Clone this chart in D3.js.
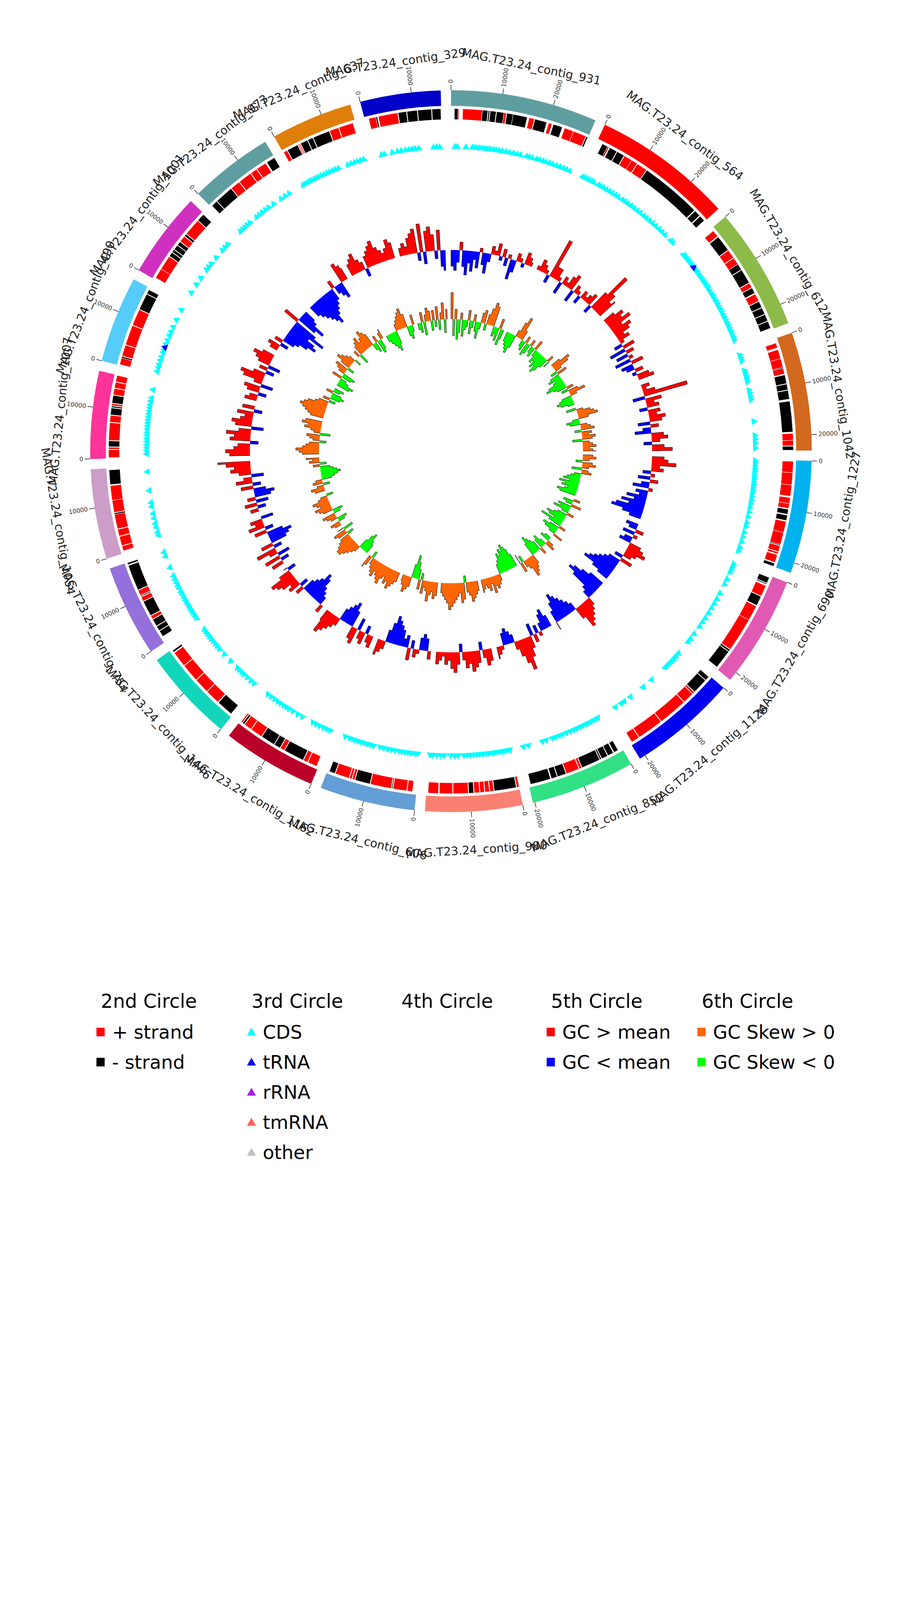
<!DOCTYPE html>
<html>
<head>
<meta charset="utf-8">
<script src="https://cdn.jsdelivr.net/npm/d3@7"></script>
<style>
  body { margin: 0; background: #fff; }
  svg { font-family: "DejaVu Sans", sans-serif; }
</style>
</head>
<body>
<svg id="chart" width="2310" height="4620"></svg>
<script>
// Circular MAG plot: contigs, strand features, CDS markers, GC content & GC skew.

const contigNames = [
  'MAG.T23.24_contig_931', 'MAG.T23.24_contig_564', 'MAG.T23.24_contig_612', 'MAG.T23.24_contig_1042',
  'MAG.T23.24_contig_1227', 'MAG.T23.24_contig_690', 'MAG.T23.24_contig_1126', 'MAG.T23.24_contig_852',
  'MAG.T23.24_contig_980', 'MAG.T23.24_contig_606', 'MAG.T23.24_contig_1162', 'MAG.T23.24_contig_1446',
  'MAG.T23.24_contig_754', 'MAG.T23.24_contig_1054', 'MAG.T23.24_contig_1007', 'MAG.T23.24_contig_490',
  'MAG.T23.24_contig_1001', 'MAG.T23.24_contig_973', 'MAG.T23.24_contig_637', 'MAG.T23.24_contig_329',
];
const contigLengths = [28610, 27390, 23920, 23080, 21990, 21810, 21170, 20380, 18960, 18620,
  18410, 18190, 17880, 17520, 17090, 16900, 16690, 16380, 15910, 15690];
const contigColors = ['#5f9ea0', '#ff0000', '#8cbb4a', '#d2691e', '#00b2ee', '#e05ab4', '#0000ee', '#32e085',
  '#fa8072', '#639ed6', '#ba0028', '#12d6bb', '#9370db', '#cc9dc6', '#ff3399', '#55ccfa',
  '#d030c0', '#5f9ea0', '#df7f0a', '#0000c8'];

// features per contig: [start kb, end kb, strand]
const strandFeatures = [
  [[0.7,1.45,-1],[1.45,1.65,1],[2.4,6.4,1],[6.4,7.5,-1],[7.6,7.9,-1],[8.0,9.2,-1],[9.3,10.8,-1],[10.8,11.3,1],[11.4,12.7,-1],[12.7,15.6,-1],[16.0,17.1,1],[17.2,19.7,-1],[20.1,20.8,1],[21.1,23.0,-1],[23.5,25.4,1],[25.4,28.1,1],[28.2,28.55,-1]],
  [[1.2,2.4,-1],[2.4,2.7,1],[2.9,4.5,-1],[4.6,6.2,-1],[6.3,8.0,1],[8.0,9.3,1],[9.4,11.6,1],[11.7,24.3,-1],[24.5,25.8,-1],[26.0,27.2,-1]],
  [[0.6,2.0,1],[2.2,5.5,-1],[5.6,7.4,1],[7.5,9.0,1],[9.0,10.3,-1],[10.4,13.4,-1],[13.5,14.5,1],[14.6,15.8,-1],[16.0,17.6,1],[17.7,19.0,-1],[19.1,20.5,-1],[20.6,22.0,-1],[22.1,23.6,-1]],
  [[0.9,1.9,1],[2.3,4.2,1],[4.2,6.0,1],[6.0,6.2,-1],[6.2,7.4,1],[7.6,9.4,-1],[9.5,10.7,-1],[10.8,12.6,-1],[13.0,19.3,-1],[19.6,21.0,1],[21.0,22.1,1],[22.2,23.0,-1]],
  [[0.2,2.5,1],[2.5,5.0,1],[5.0,7.3,1],[7.6,8.8,1],[8.8,9.8,1],[10.0,11.0,-1],[11.2,12.3,-1],[12.5,14.8,1],[14.8,17.3,1],[17.3,17.5,-1],[17.6,18.8,1],[18.9,19.3,1],[19.5,21.1,1],[21.3,21.95,-1]],
  [[0.4,1.6,-1],[1.7,1.9,-1],[2.2,4.5,1],[4.6,6.6,-1],[6.8,10.0,1],[10.0,17.0,1],[17.1,17.5,-1],[17.6,21.5,-1]],
  [[0.3,1.2,-1],[1.3,4.5,-1],[4.6,5.0,1],[5.1,7.4,1],[7.5,13.5,1],[13.6,19.0,1],[19.1,20.8,1]],
  [[0.9,1.8,-1],[2.0,3.2,-1],[3.3,4.6,-1],[4.7,5.0,-1],[5.1,9.0,-1],[9.1,9.6,1],[9.7,12.4,1],[12.5,14.3,-1],[14.4,15.6,-1],[15.8,20.0,-1]],
  [[0.0,0.5,1],[0.6,5.1,-1],[5.2,6.0,1],[6.1,7.0,1],[7.1,8.0,1],[8.1,9.2,1],[9.3,10.3,-1],[10.4,13.5,1],[13.6,16.3,1],[16.5,18.6,1]],
  [[0.8,1.9,1],[2.0,4.8,1],[4.9,5.1,-1],[5.2,9.5,1],[9.6,12.7,-1],[12.8,13.3,1],[13.4,13.9,1],[14.0,16.9,1],[17.0,18.2,-1]],
  [[0.4,2.3,1],[2.4,3.3,1],[3.4,7.6,-1],[7.7,8.6,1],[8.7,10.0,-1],[10.1,13.0,-1],[13.1,15.6,1],[15.7,17.3,1],[17.4,17.8,-1],[17.9,18.2,1]],
  [[0.4,3.8,-1],[4.0,7.0,1],[7.1,10.2,1],[10.3,14.0,1],[14.1,17.3,1],[17.5,17.9,-1]],
  [[1.2,2.5,-1],[2.6,3.6,-1],[3.7,5.2,-1],[5.3,6.0,1],[6.1,9.3,-1],[9.4,10.3,1],[10.4,10.6,-1],[10.7,11.8,1],[11.9,17.2,-1],[17.4,17.8,-1]],
  [[0.5,1.5,1],[1.6,3.5,1],[3.6,5.0,1],[5.1,8.1,1],[8.1,8.4,-1],[8.5,11.0,1],[11.0,14.0,1],[14.2,17.2,-1]],
  [[0.2,1.8,1],[1.9,2.3,1],[2.4,3.6,-1],[3.7,7.3,1],[7.4,8.8,1],[8.9,10.3,-1],[10.4,10.7,-1],[10.8,11.2,1],[11.3,12.9,-1],[13.0,14.3,1],[14.4,15.6,1],[15.7,17.0,1]],
  [[0.2,1.6,1],[1.6,1.9,-1],[2.0,4.3,1],[4.4,8.5,1],[8.6,12.0,1],[12.1,15.5,-1],[15.6,16.5,-1]],
  [[0.4,2.5,1],[2.5,5.5,1],[5.6,6.5,-1],[6.6,7.2,-1],[7.3,8.3,-1],[8.4,9.2,-1],[9.3,10.6,1],[10.7,11.2,-1],[11.3,14.8,1],[14.9,16.5,-1]],
  [[0.3,1.6,-1],[1.7,5.5,-1],[5.6,7.6,1],[7.7,10.5,1],[10.6,12.0,1],[12.1,14.2,1],[14.5,16.3,-1]],
  [[0.1,0.9,1],[1.0,3.3,-1],[3.4,3.6,1],[3.7,3.9,1],[4.0,5.5,-1],[5.6,6.7,-1],[6.8,10.3,-1],[10.4,12.3,1],[12.4,15.4,1]],
  [[0.8,2.3,1],[2.3,2.6,-1],[2.8,6.8,1],[6.9,8.6,-1],[8.7,10.8,-1],[10.9,13.7,-1],[13.8,15.6,-1]],
];

// CDS marker positions (kb) per contig
const cdsPositions = [
  [0.9,1.4,3.4,4.9,5.4,5.9,6.5,7.0,7.6,8.1,8.7,9.2,9.8,10.4,11.0,11.7,12.6,13.4,14.3,15.2,16.0,17.4,18.0,18.7,19.8,20.5,21.3,22.0,22.8,23.6,24.5,25.3,26.2,27.0,27.8],
  [0.5,1.0,1.5,2.1,2.7,3.3,4.5,5.1,5.8,6.6,7.4,8.2,9.0,9.8,10.9,11.6,12.4,13.3,14.2,15.1,16.0,17.0,17.8,18.7,19.6,20.6,21.6,22.6,23.6,25.4,26.1],
  [0.4,0.9,1.5,2.0,2.6,3.1,3.6,4.6,5.2,5.7,6.3,6.9,7.5,8.1,8.7,9.3,9.9,10.6,11.3,12.0,12.7,13.4,14.1,14.8,15.5,16.2,16.9,17.6,18.3,19.0,19.7,20.4,21.1,21.8,22.5,23.2],
  [0.9,1.7,2.3,4.6,5.1,5.6,6.1,6.6,7.2,9.2,9.9,10.6,11.4,16.4,19.6,20.5,21.4,22.5],
  [0.3,0.8,1.4,2.0,2.6,3.2,3.8,4.4,5.0,5.6,6.3,7.0,7.7,8.5,9.3,10.1,11.0,12.1,13.2,14.6,15.5,16.9,17.9,19.1,20.4,21.3],
  [0.5,1.2,1.9,2.6,4.3,5.6,7.9,9.4,10.6,11.8,13.1,14.5,15.6,16.8,18.9,20.3,21.2],
  [0.8,1.6,2.3,2.8,3.3,3.9,4.5,5.2,9.4,12.0,15.6,17.4,18.2,19.8],
  [1.3,2.0,2.7,3.3,3.9,4.6,5.3,6.0,6.8,7.6,8.4,9.3,10.2,11.1,12.0,12.7,14.2,15.1,18.4,19.6],
  [0.4,1.0,1.6,2.2,2.8,3.4,4.0,4.6,5.3,6.0,6.7,7.4,8.1,8.8,9.5,10.2,11.0,12.3,13.1,14.0,15.5,16.3,17.2,18.1,18.7],
  [0.6,1.3,2.0,2.8,3.5,4.2,4.9,5.8,6.6,7.5,8.4,9.3,10.8,11.6,12.3,13.0,13.7,14.4,15.1,15.8,16.5,17.6],
  [0.7,1.5,2.4,3.3,4.2,5.1,7.8,9.0,10.3,11.3,12.0,12.8,13.6,14.4,15.3,16.3,17.2],
  [0.8,1.8,2.9,3.9,4.6,5.3,6.0,8.2,10.3,11.9,12.7,13.4,14.1,14.8,15.5,16.2,16.9,17.6],
  [0.5,1.2,1.9,2.5,3.1,3.7,4.3,4.9,5.6,6.3,7.0,7.7,8.5,9.2,10.0,10.8,11.6,13.6,16.4,17.4],
  [1.6,2.3,3.5,4.4,5.6,6.7,8.3,9.2,12.0,16.3],
  [0.9,1.6,2.3,3.0,3.7,4.4,5.1,5.8,6.5,7.2,7.9,8.6,9.3,10.0,10.7,11.4,12.1,12.9,13.7,15.6],
  [0.8,1.7,2.5,3.4,4.3,5.3,5.9,7.4,8.3,9.5,10.4,11.6,13.4,15.9],
  [1.6,3.8,5.6,7.9,8.7,9.6,11.4,13.6,14.5,15.4],
  [0.9,1.6,2.3,3.0,3.8,5.8,6.6,7.5,8.4,9.3,10.7,12.8,13.9,15.0],
  [0.3,0.9,1.5,2.1,2.7,3.3,3.9,4.5,5.1,5.8,6.5,7.2,7.9,8.6,9.3,11.6,12.4,13.2,14.0,14.7,15.4],
  [1.7,2.4,4.2,5.4,6.3,7.3,8.1,8.8,9.5,10.3,13.7,14.4,15.1],
];
// tRNA marker positions (kb): [contig index, position]
const trnaPositions = [[2, 4.1], [15, 6.6]];

// GC content deviation from mean, 1 kb windows
const gcContent = [
  [-4,-5,-3,2,-4,-6,-3,-5,-2,-4,1,-3,-5,-2,2,1,3,-1,2,-2,1,-5,-3,2,1,-1,3,2,1],
  [1,3,2,1,-2,10,3,3,1,-3,2,1,3,4,-3,2,1,-2,2,1,2,3,-2,5,11,6,4,5],
  [3,5,4,6,3,5,4,2,3,1,-2,3,-4,2,-3,1,-4,3,-3,-2,2,-1,3,4],
  [2,1,3,11,-3,4,2,3,-2,3,2,4,3,-3,2,-2,-4,3,4,2,-2,3,5,2],
  [3,4,6,2,3,-2,1,-3,2,-2,-4,1,-3,-2,-5,-3,-6,-4,-7,-8,-5,-3],
  [-3,-2,2,-3,1,-2,-3,3,4,5,3,2,-2,3,-3,-4,-5,-6,-7,-8,-5,-3],
  [-4,-6,-8,-9,-7,-3,-2,2,3,4,5,6,3,-2,-3,-4,-5,-6,-7,-5,-3,2],
  [-3,-5,-4,-2,1,-2,2,-3,3,5,8,6,4,2,-2,-3,-4,-3,1,2,3],
  [3,4,2,-2,3,4,5,3,4,2,-2,3,5,4,2,3,1,2,3],
  [2,-3,-4,-3,1,2,-2,3,-3,-2,-4,-5,-6,-7,-5,-3,2,3,4],
  [3,2,-2,3,2,-3,4,3,-4,-6,-5,-4,-3,2,3,4,5,6,3],
  [2,-2,-3,-4,-6,-7,-5,-4,-3,2,-2,3,2,4,5,6,3,-2,1],
  [3,-2,4,-3,2,5,-2,3,-4,-5,-6,-4,3,-2,4,2,3,-3],
  [2,-2,3,-3,2,-4,-5,-3,3,-2,4,2,-3,3,5,4,6,8],
  [5,6,4,3,-2,5,4,6,3,-3,4,5,3,2,4,-2,3,2],
  [3,2,-2,3,4,-3,2,5,6,3,-2,2,-3,3,4,5,3],
  [2,3,-2,2,-3,-4,-6,-8,-7,-5,-9,-6,4,-5,-7,-4,-3],
  [-3,-4,-5,-6,-7,-8,-6,-5,-4,-3,2,-2,-3,-4,5,4,3],
  [3,4,5,3,2,-2,3,4,5,6,4,3,2,3,5,4],
  [2,3,2,4,5,6,-2,7,-3,5,6,4,-2,5,-4,-5],
];

// GC skew, 1 kb windows
const gcSkew = [
  [8,-5,3,-6,-4,2,-5,-3,-2,3,-4,-2,2,-3,-5,-2,3,4,-2,3,5,7,6,-3,-2,-4,3,-5,-3],
  [-3,-4,-5,-6,-4,2,5,7,3,-2,-3,2,-4,-3,2,-2,-3,3,-2,-4,-3,-5,-4,-6,-5,-3,2,-2],
  [3,6,5,2,-2,3,-3,-4,-2,-3,-5,-6,-4,-3,2,-2,3,5,2,-3,-4,-5,-4,-2],
  [-3,2,4,5,6,3,-2,-4,-3,2,3,4,-2,3,2,4,3,-3,2,3,4,2,3,4],
  [3,4,2,-2,3,4,2,-3,2,3,-2,-3,-4,-5,-3,-6,-4,-5,-3,-4,-6,-5],
  [2,-3,-2,3,-4,-3,-5,-2,2,-3,-4,-6,-5,-3,-7,-4,2,-3,-5,-4,-2,3],
  [-2,-3,2,3,-2,-4,-3,2,-3,-4,-5,-6,-4,3,4,5,6,3,2,-2,3,-3],
  [-4,-6,-7,-8,-6,-7,-5,-6,-4,-3,2,3,4,3,5,2,4,3,2,3,4],
  [3,4,5,6,4,3,-2,5,6,3,4,5,6,7,8,6,5,4,3],
  [4,5,3,4,6,3,2,4,-2,3,-3,-5,-7,-4,3,4,5,3,2],
  [3,4,5,6,4,5,3,4,6,5,4,3,5,4,3,2,-2,3,4],
  [-3,-4,-6,-5,-3,2,3,4,5,6,6,5,4,3,-2,3,4,-3,2],
  [2,3,-2,-3,2,3,4,-2,-3,3,4,5,3,4,5,3,2,-2],
  [3,4,2,-2,3,2,-3,-4,-5,-6,-5,-4,-3,2,-2,3,2,4],
  [5,6,7,5,4,3,-2,2,3,4,-3,2,3,5,4,6,5,4],
  [4,5,6,7,8,7,6,4,3,-2,2,-3,-4,-3,2,-2,-3],
  [-4,-5,-3,-2,3,-3,-4,2,3,4,-2,3,5,4,3,2,-2],
  [2,-3,3,4,5,3,4,6,5,4,-2,-3,2,-4,-3,2,3],
  [-2,-3,-4,-5,-6,-4,2,3,4,5,6,4,-3,-4,-2,3],
  [-2,-3,3,-4,2,4,3,-3,3,-2,4,-3,2,5,-4,3],
];

const tickStep = 10000;
const windowSize = 1000;

const legendTitles = ['2nd Circle', '3rd Circle', '4th Circle', '5th Circle', '6th Circle'];
const legendLabels = [
  ['+ strand', '- strand'],
  ['CDS', 'tRNA', 'rRNA', 'tmRNA', 'other'],
  [],
  ['GC > mean', 'GC < mean'],
  ['GC Skew > 0', 'GC Skew < 0'],
];
const legendColors = [
  ['#ff0000', '#000000'],
  ['#00ffff', '#0000ff', '#a020f0', '#ff5f5f', '#bfbfbf'],
  [],
  ['#ff0000', '#0000ff'],
  ['#ff6600', '#00ff00'],
];
const legendShapes = ['square', 'triangle', 'square', 'square', 'square'];

// ---------------- layout ----------------
const cx = 1155, cy = 1155;
const R = {
  contigIn: 884, contigOut: 924, tickOut: 938, tickLabel: 942,
  label: 1006, labelFlip: 1022,
  strandIn: 849, strandOut: 877, cds: 779,
  gcBase: 515, gcK: 10.4, skBase: 338, skK: 8.5,
};
const gap = 1.64 * Math.PI / 180;
const total = d3.sum(contigLengths);
const usable = 2 * Math.PI - contigLengths.length * gap;

let acc = 0;
const sectors = contigLengths.map((L, i) => {
  const a0 = acc, a1 = a0 + usable * L / total;
  acc = a1 + gap;
  return { i, L, a0, a1, scale: d3.scaleLinear().domain([0, L]).range([a0, a1]) };
});

const deg = a => a * 180 / Math.PI;
const pt = (r, a) => [r * Math.sin(a), -r * Math.cos(a)];

const svg = d3.select('#chart');
svg.append('rect').attr('width', 2310).attr('height', 4620).attr('fill', '#fff');
const g = svg.append('g').attr('transform', `translate(${cx},${cy})`);
const arc = d3.arc();

// outer contig ring
g.append('g').selectAll('path').data(sectors).join('path')
  .attr('d', d => arc({ innerRadius: R.contigIn, outerRadius: R.contigOut, startAngle: d.a0, endAngle: d.a1 }))
  .attr('fill', d => contigColors[d.i]);

// ticks + tick labels
const ticks = sectors.flatMap(s => d3.range(0, s.L + 1, tickStep).map(t => ({ t, a: s.scale(t) })));
const tickG = g.append('g');
tickG.selectAll('line').data(ticks).join('line')
  .attr('x1', d => pt(R.contigOut, d.a)[0]).attr('y1', d => pt(R.contigOut, d.a)[1])
  .attr('x2', d => pt(R.tickOut, d.a)[0]).attr('y2', d => pt(R.tickOut, d.a)[1])
  .attr('stroke', '#000').attr('stroke-width', 1.3);
tickG.selectAll('text').data(ticks).join('text')
  .attr('transform', d => {
    const [x, y] = pt(R.tickLabel, d.a);
    const dd = deg(d.a);
    return `translate(${x},${y}) rotate(${dd < 180 ? dd - 90 : dd - 270})`;
  })
  .attr('text-anchor', d => deg(d.a) < 180 ? 'start' : 'end')
  .attr('dominant-baseline', 'central')
  .attr('font-size', 15.5).attr('fill', '#333')
  .text(d => d.t);

// contig labels
g.append('g').selectAll('text').data(sectors).join('text')
  .attr('transform', d => {
    const a = (d.a0 + d.a1) / 2, dd = deg(a);
    const flip = dd > 90 && dd < 270;
    const [x, y] = pt(flip ? R.labelFlip : R.label, a);
    return `translate(${x},${y}) rotate(${flip ? dd - 180 : dd})`;
  })
  .attr('text-anchor', 'middle').attr('dominant-baseline', 'central')
  .attr('font-size', 30).attr('fill', '#222')
  .text(d => contigNames[d.i]);

// 2nd circle: strand features
const feats = sectors.flatMap(s => strandFeatures[s.i].map(([a, b, st]) => ({
  a0: s.scale(a * 1000), a1: s.scale(Math.min(b * 1000, s.L)), st })));
g.append('g').selectAll('path').data(feats).join('path')
  .attr('d', d => arc({ innerRadius: R.strandIn, outerRadius: R.strandOut, startAngle: d.a0, endAngle: d.a1 }))
  .attr('fill', d => d.st > 0 ? '#ff0000' : '#000000')
  .attr('stroke', '#fff').attr('stroke-width', 1);

// 3rd circle: CDS / tRNA markers pointing outward
const tri = d3.symbol(d3.symbolTriangle, 140)();
const marks = sectors.flatMap(s => cdsPositions[s.i].map(p => ({ a: s.scale(p * 1000), c: '#00ffff' })))
  .concat(trnaPositions.map(([ci, p]) => ({ a: sectors[ci].scale(p * 1000), c: '#0000ff' })));
g.append('g').selectAll('path').data(marks).join('path')
  .attr('d', tri)
  .attr('transform', d => { const [x, y] = pt(R.cds, d.a); return `translate(${x},${y}) rotate(${deg(d.a)})`; })
  .attr('fill', d => d.c);

// 5th & 6th circles: stepped fill around a baseline, outlined on the outside only
const radial = d3.lineRadial().angle(d => d[0]).radius(d => d[1]);
function steppedTrack(series, base, k, posColor, negColor) {
  const runs = [];
  sectors.forEach(s => {
    let cur = null;
    series[s.i].forEach((v, w) => {
      const a0 = s.scale(Math.min(w * windowSize, s.L)), a1 = s.scale(Math.min((w + 1) * windowSize, s.L));
      const sg = Math.sign(v);
      if (!sg || a1 <= a0) { cur = null; return; }
      if (!cur || cur.sg !== sg) { cur = { sg, ws: [] }; runs.push(cur); }
      cur.ws.push({ a0, a1, r: base + v * k });
    });
  });
  runs.forEach(run => {
    run.edge = [[run.ws[0].a0, base], ...run.ws.flatMap(w => [[w.a0, w.r], [w.a1, w.r]]), [run.ws[run.ws.length - 1].a1, base]];
    run.back = run.ws.slice().reverse().map(w => [w.a0, base]);
  });
  const layer = g.append('g');
  layer.selectAll('path.fill').data(runs).join('path')
    .attr('class', 'fill')
    .attr('d', d => radial(d.edge.concat(d.back)) + 'Z')
    .attr('fill', d => d.sg > 0 ? posColor : negColor);
  layer.selectAll('path.edge').data(runs).join('path')
    .attr('class', 'edge')
    .attr('d', d => radial(d.edge))
    .attr('fill', 'none').attr('stroke', '#000').attr('stroke-width', 1);
}
steppedTrack(gcContent, R.gcBase, R.gcK, '#ff0000', '#0000ff');
steppedTrack(gcSkew, R.skBase, R.skK, '#ff6600', '#00ff00');

// ---------------- legend ----------------
const legX = [258, 644, 1028, 1411, 1797];
const legTitleY = 2563, legItemY = 2642, legStep = 77;
const leg = svg.append('g');
legendTitles.forEach((title, c) => {
  const col = leg.append('g');
  col.append('text').attr('x', legX[c]).attr('y', legTitleY)
    .attr('dominant-baseline', 'central').attr('font-size', 49).attr('fill', '#000').text(title);
  const items = legendLabels[c].map((lab, i) => ({ lab, color: legendColors[c][i], y: legItemY + i * legStep }));
  if (legendShapes[c] === 'square') {
    col.selectAll('rect').data(items).join('rect')
      .attr('x', legX[c] - 11).attr('y', d => d.y - 11).attr('width', 21).attr('height', 22)
      .attr('fill', d => d.color);
  } else {
    const legTri = d3.symbol(d3.symbolTriangle, 230)();
    col.selectAll('path').data(items).join('path')
      .attr('d', legTri).attr('transform', d => `translate(${legX[c]},${d.y + 2})`)
      .attr('fill', d => d.color);
  }
  col.selectAll('text.item').data(items).join('text')
    .attr('class', 'item')
    .attr('x', legX[c] + 29).attr('y', d => d.y)
    .attr('dominant-baseline', 'central').attr('font-size', 48).attr('fill', '#000')
    .text(d => d.lab);
});
</script>
</body>
</html>
